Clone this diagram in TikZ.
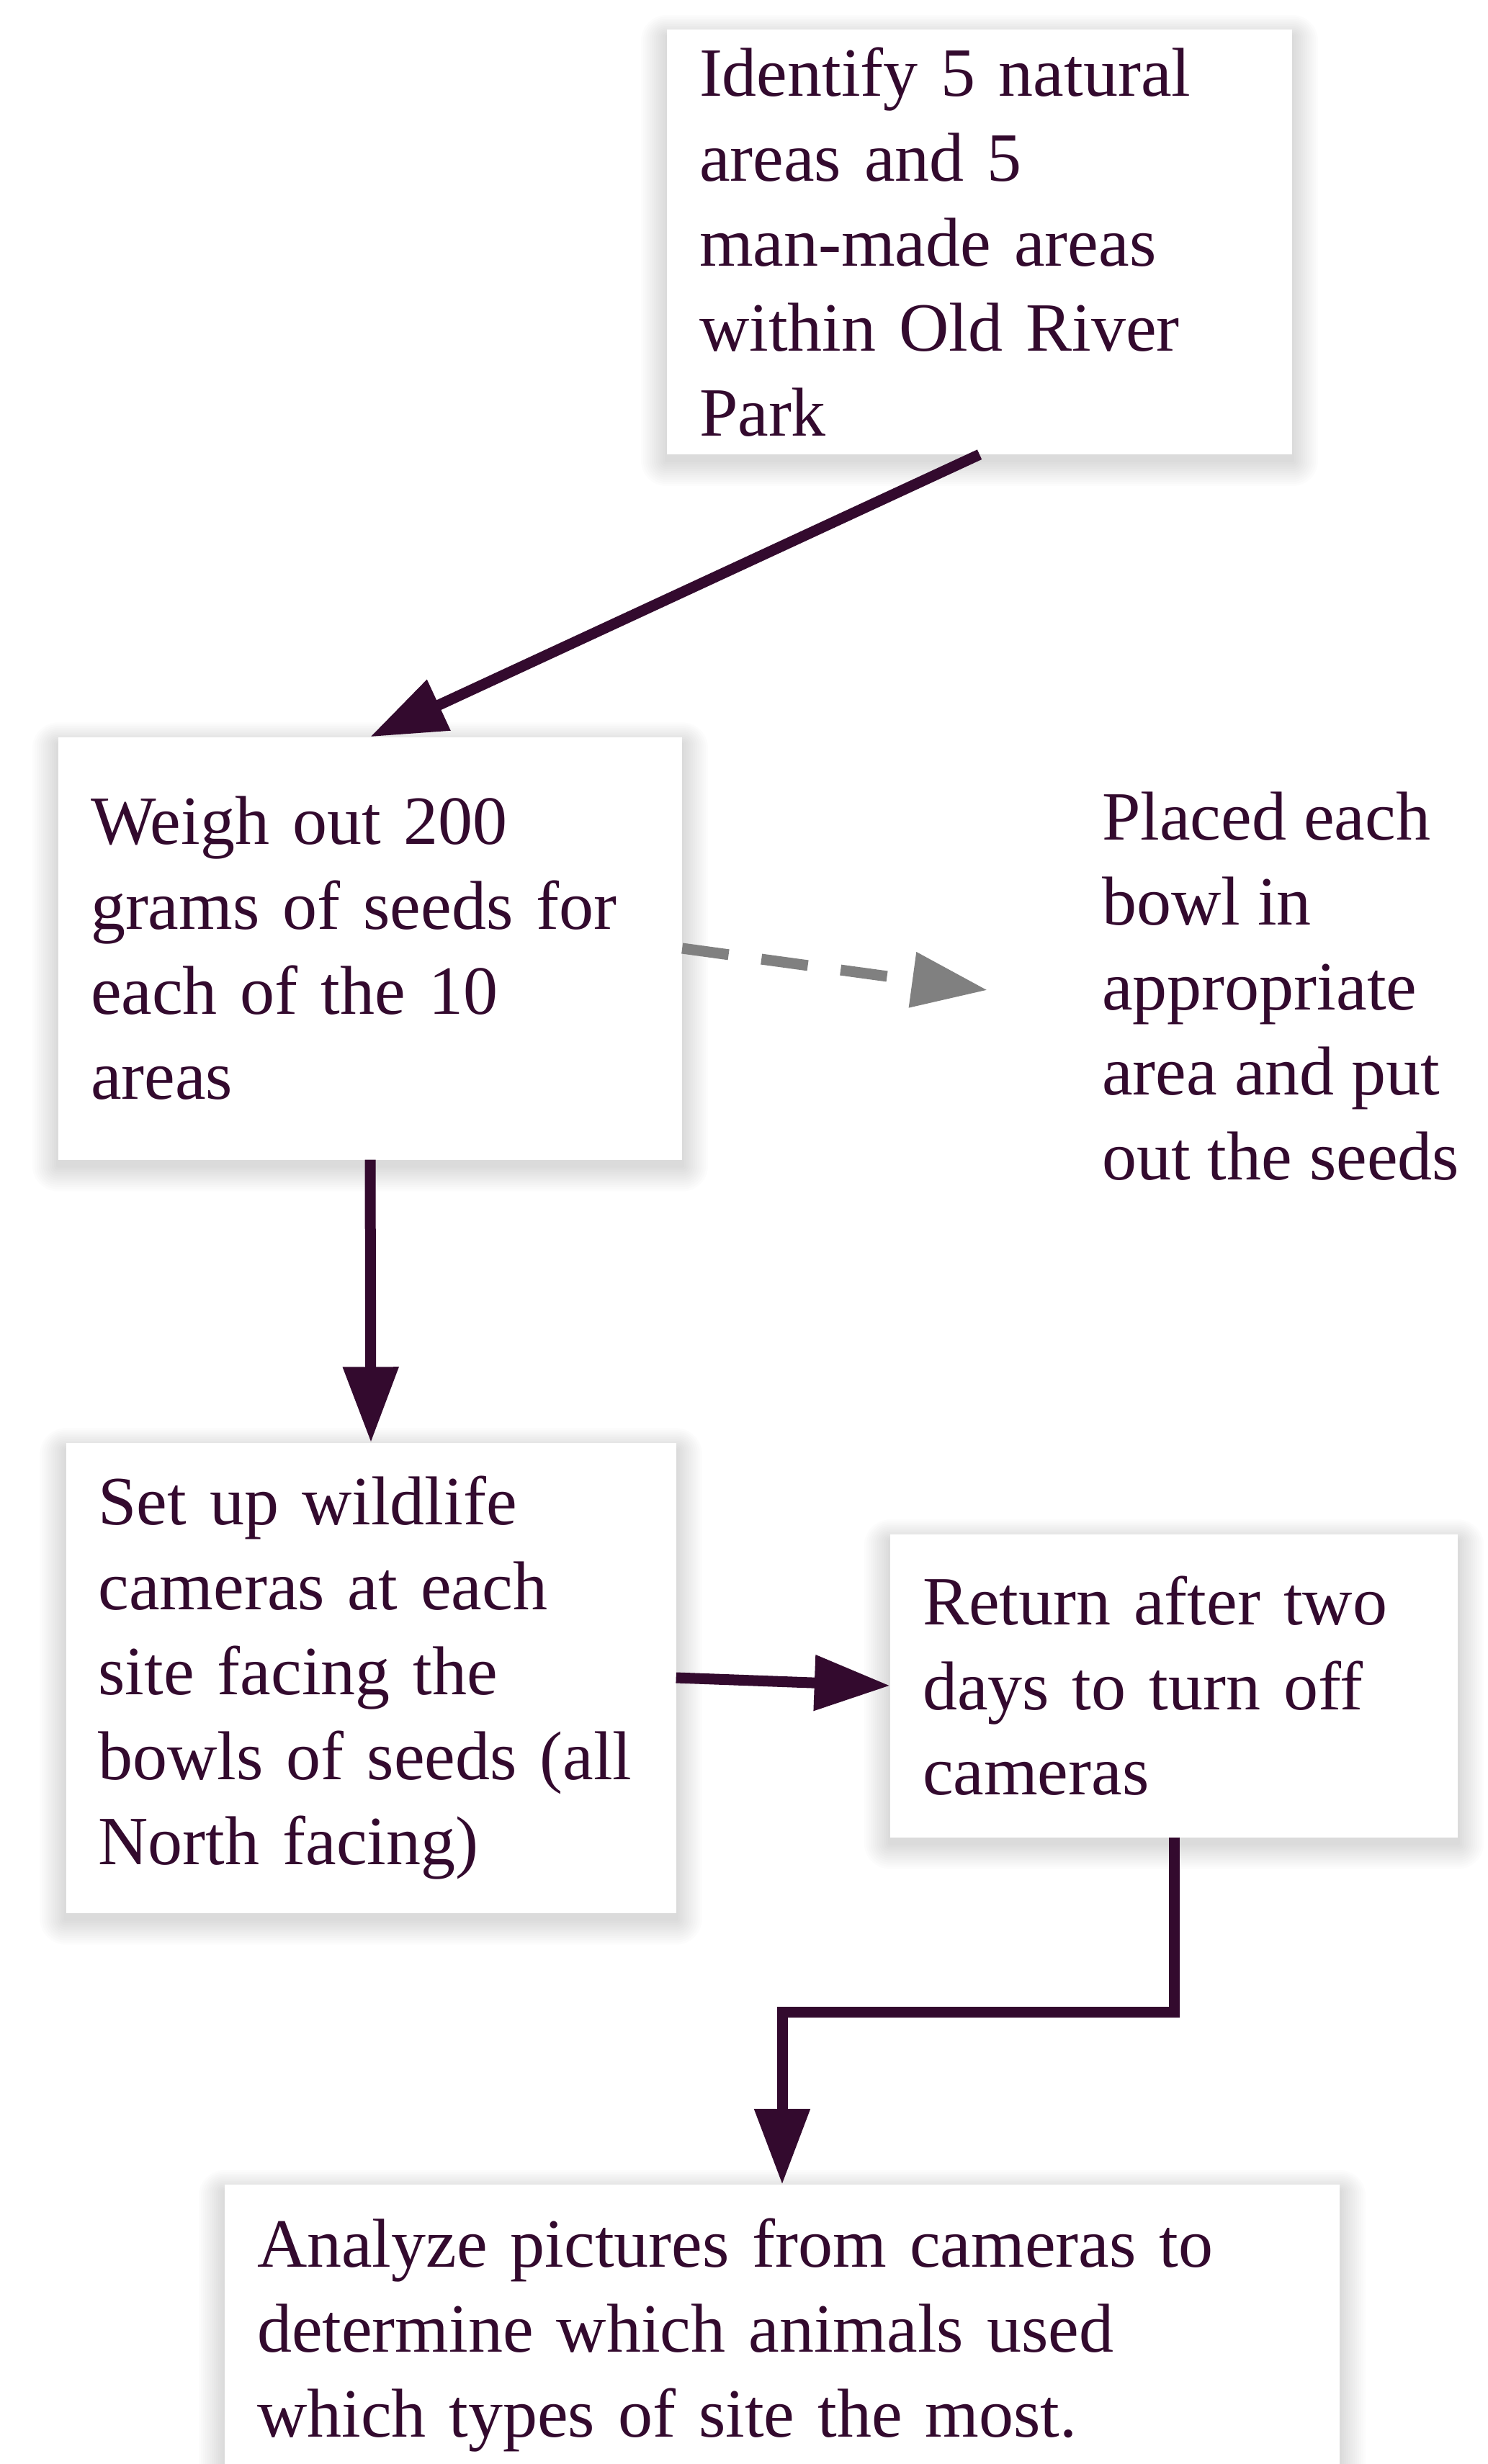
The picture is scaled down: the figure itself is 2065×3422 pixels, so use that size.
\documentclass[tikz,border=0pt]{standalone}
\usepackage{fontspec}
\setmainfont{Liberation Serif}
\usetikzlibrary{arrows.meta,calc}
\definecolor{ink}{RGB}{51,10,46}
\definecolor{dashgray}{RGB}{128,128,128}
\pgfdeclarelayer{bg}
\pgfsetlayers{bg,main}
\begin{document}
\begin{tikzpicture}[x=1pt,y=-1pt,
  box/.style={rectangle, draw=none, fill=white, align=left, inner xsep=45pt, inner ysep=0pt,
    font=\fontsize{96}{118}\selectfont, text=ink},
  plain/.style={rectangle, align=left, inner sep=0pt, font=\fontsize{96}{118}\selectfont, text=ink},
  shadowlayer/.style={fill=black, fill opacity=0.011, draw=none},
  flow/.style={draw=ink, line width=15pt, -{Triangle[length=105pt,width=74pt]}},
  dashflow/.style={draw=dashgray, line width=15pt, dash pattern=on 65pt off 46pt, -{Triangle[length=105pt,width=74pt]}}]
\useasboundingbox (0,0) rectangle (2065,3422);

\node[box, text width=778pt, minimum height=590pt] (b1) at (1360,336)
  {Identify 5 natural\\areas and 5\\man-made areas\\within Old River\\Park};
\node[box, text width=776pt, minimum height=587pt] (b2) at (514,1317)
  {Weigh out 200\\grams of seeds for\\each of the 10\\areas};
\node[plain, anchor=west] (p) at (1530,1370)
  {Placed each\\bowl in\\appropriate\\area and put\\out the seeds};
\node[box, text width=757pt, minimum height=653pt] (b3) at (515,2330)
  {Set up wildlife\\cameras at each\\site facing the\\bowls of seeds (all\\North facing)};
\node[box, text width=698pt, minimum height=421pt] (b4) at (1630,2341)
  {Return after two\\days to turn off\\cameras};
\node[box, text width=1458pt, minimum height=418pt] (b5) at (1086,3243)
  {Analyze pictures from cameras to\\determine which animals used\\which types of site the most.};

\begin{pgfonlayer}{bg}
  \fill[white] (0,0) rectangle (2065,3422);
  \foreach \n in {b1,b2,b3,b4,b5}{
    \foreach \i in {1,...,12}{
      \fill[shadowlayer, rounded corners=3*\i pt]
        ($(\n.north west)+(-3*\i,-2.5*\i+10)$) rectangle ($(\n.south east)+(3*\i,3*\i+8)$);
    }
  }
\end{pgfonlayer}

\coordinate (pend) at (1371,1375);
\coordinate (turn) at (0,2794);

\draw[flow] (b1.south) -- (b2.north);
\draw[dashflow] (b2.east) -- (pend);
\draw[flow] (b2.south) -- (b3.north);
\draw[flow] (b3.east) -- (b4.west);
\draw[flow] (b4.south) -- (b4.south |- turn) -| (b5.north);
\end{tikzpicture}
\end{document}
